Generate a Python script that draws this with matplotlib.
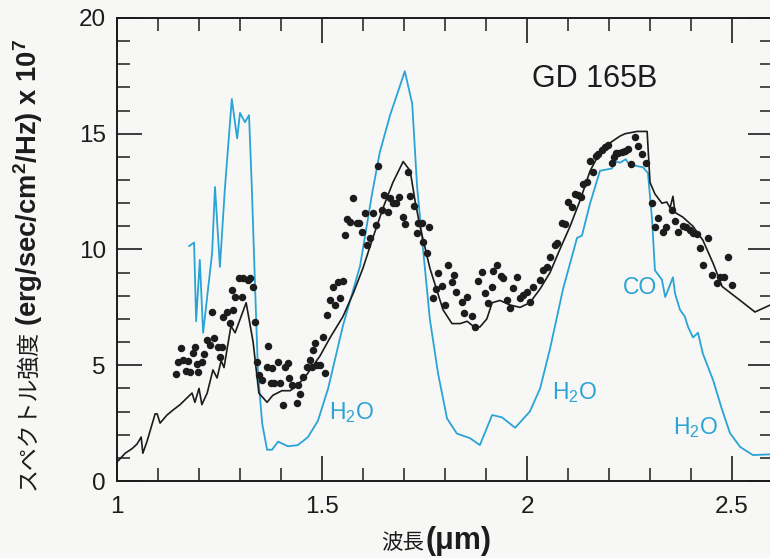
import matplotlib
matplotlib.use("Agg")
import matplotlib.pyplot as plt
from matplotlib.ticker import MultipleLocator

plt.rcParams['font.family'] = ['Liberation Sans', 'DejaVu Sans']
plt.rcParams['mathtext.fontset'] = 'custom'
plt.rcParams['mathtext.rm'] = 'Liberation Sans'
plt.rcParams['mathtext.bf'] = 'Liberation Sans:bold'
plt.rcParams['mathtext.it'] = 'Liberation Sans:italic'

# ---- data ----
model_wl = [1.000, 1.020, 1.037, 1.049, 1.059, 1.063, 1.073, 1.093, 1.098, 1.105,
            1.122, 1.137, 1.154, 1.183, 1.190, 1.200, 1.207, 1.220, 1.234, 1.244,
            1.254, 1.261, 1.278, 1.288, 1.315, 1.332, 1.346, 1.366, 1.380, 1.402,
            1.422, 1.439, 1.463, 1.495, 1.520, 1.551, 1.576, 1.600, 1.624, 1.649,
            1.673, 1.698, 1.715, 1.727, 1.739, 1.751, 1.763, 1.780, 1.795, 1.817,
            1.837, 1.854, 1.868, 1.885, 1.902, 1.915, 1.934, 1.959, 1.983, 2.007,
            2.032, 2.056, 2.080, 2.105, 2.129, 2.154, 2.178, 2.202, 2.227, 2.239,
            2.268, 2.293, 2.300, 2.312, 2.329, 2.341, 2.349, 2.356, 2.361, 2.380,
            2.405, 2.429, 2.454, 2.476, 2.520, 2.556, 2.593]
model_flux = [0.82, 1.2, 1.4, 1.6, 1.9, 1.2, 1.7, 2.9, 2.9, 2.5,
              2.85, 3.07, 3.3, 3.8, 3.4, 4.0, 3.3, 3.8, 4.8, 4.45,
              5.2, 4.9, 6.7, 6.4, 7.7, 6.0, 3.8, 3.4, 3.7, 3.9,
              3.9, 4.1, 4.6, 5.4, 6.2, 7.1, 8.1, 9.2, 10.5, 11.8,
              12.9, 13.8, 13.4, 12.1, 11.0, 10.1, 9.2, 8.25, 7.4, 6.8,
              6.8, 6.9, 6.7, 6.65, 7.0, 7.7, 7.8, 7.6, 7.5, 7.7,
              8.3, 9.0, 10.0, 11.0, 12.1, 13.4, 14.2, 14.6, 14.9, 15.0,
              15.1, 15.1, 12.9, 12.4, 12.0, 12.05, 11.8, 12.3, 11.6, 11.4,
              11.0, 10.4, 9.4, 8.4, 7.8, 7.3, 7.6]

dusty_wl = [1.176, 1.188, 1.193, 1.202, 1.210, 1.232, 1.239, 1.251, 1.263, 1.280,
            1.293, 1.300, 1.312, 1.322, 1.329, 1.337, 1.344, 1.354, 1.366, 1.378,
            1.393, 1.417, 1.441, 1.466, 1.490, 1.515, 1.551, 1.593, 1.622, 1.641,
            1.666, 1.685, 1.702, 1.720, 1.732, 1.746, 1.763, 1.783, 1.805, 1.829,
            1.861, 1.885, 1.915, 1.939, 1.971, 2.007, 2.032, 2.056, 2.088, 2.122,
            2.134, 2.154, 2.178, 2.207, 2.215, 2.227, 2.241, 2.246, 2.256, 2.283,
            2.295, 2.305, 2.312, 2.329, 2.337, 2.344, 2.356, 2.361, 2.373, 2.385,
            2.393, 2.405, 2.417, 2.429, 2.454, 2.476, 2.495, 2.520, 2.551, 2.593]
dusty_flux = [10.15, 10.3, 6.9, 9.55, 6.4, 9.85, 12.7, 9.25, 12.6, 16.5,
              14.8, 15.9, 15.5, 15.8, 12.6, 8.25, 4.65, 2.5, 1.35, 1.35,
              1.7, 1.5, 1.55, 1.9, 2.6, 4.0, 6.7, 9.3, 12.4, 14.2,
              15.8, 16.8, 17.7, 16.3, 12.7, 10.1, 7.0, 4.65, 2.7, 2.05,
              1.85, 1.55, 2.85, 2.75, 2.3, 3.0, 4.0, 5.7, 8.3, 10.5,
              10.6, 12.0, 13.4, 13.5, 13.8, 13.75, 13.9, 13.75, 13.65, 13.55,
              13.3, 11.3, 9.1, 8.7, 7.95, 8.25, 8.8, 8.1, 7.4, 7.1,
              6.65, 6.2, 6.4, 5.5, 4.35, 3.07, 2.07, 1.47, 1.12, 1.15]

obs_wl = [1.144, 1.148, 1.155, 1.162, 1.168, 1.172, 1.178, 1.186, 1.190, 1.194,
          1.198, 1.207, 1.213, 1.219, 1.227, 1.231, 1.237, 1.247, 1.251, 1.257,
          1.259, 1.268, 1.276, 1.284, 1.281, 1.288, 1.298, 1.304, 1.308, 1.319,
          1.324, 1.331, 1.337, 1.341, 1.346, 1.353, 1.365, 1.369, 1.379, 1.376,
          1.384, 1.393, 1.398, 1.404, 1.410, 1.416, 1.420, 1.428, 1.438, 1.441,
          1.446, 1.454, 1.463, 1.471, 1.476,
          1.479, 1.483, 1.487, 1.495, 1.502, 1.507, 1.513, 1.520, 1.526, 1.532,
          1.540, 1.544, 1.550, 1.556, 1.562, 1.568, 1.576, 1.585, 1.591, 1.597,
          1.605, 1.609, 1.617, 1.625, 1.632, 1.637, 1.646, 1.651, 1.662, 1.666,
          1.674, 1.680, 1.689, 1.697, 1.702, 1.709, 1.715, 1.725, 1.732, 1.735,
          1.743, 1.747, 1.755, 1.762, 1.770, 1.778, 1.784, 1.792, 1.800, 1.808,
          1.816, 1.822, 1.828, 1.841, 1.846, 1.853, 1.865, 1.872, 1.881, 1.890,
          1.898, 1.906, 1.914, 1.918, 1.926, 1.936, 1.942, 1.952, 1.959, 1.967,
          1.975, 1.983, 1.991, 1.999, 2.007, 2.015,
          2.032, 2.040, 2.048, 2.056, 2.068, 2.074, 2.085, 2.093, 2.101, 2.109,
          2.117, 2.125, 2.131, 2.137, 2.146, 2.154, 2.162, 2.168, 2.174, 2.182,
          2.190, 2.198, 2.207, 2.211, 2.217, 2.223, 2.231, 2.239, 2.247, 2.253,
          2.263, 2.271, 2.280, 2.290, 2.304, 2.312, 2.320, 2.332, 2.339, 2.353,
          2.361, 2.369, 2.380, 2.388, 2.398, 2.406, 2.414, 2.422, 2.430, 2.442,
          2.450, 2.463, 2.471, 2.481, 2.491, 2.499]
obs_flux = [4.62, 5.15, 5.73, 5.23, 4.75, 5.20, 4.72, 5.52, 5.78, 5.05,
            4.72, 5.15, 5.49, 6.09, 5.87, 7.31, 6.16, 5.80, 5.37, 5.80,
            7.10, 7.31, 6.81, 7.39, 8.25, 7.96, 8.75, 7.93, 8.75, 8.68,
            8.75, 8.39, 6.88, 5.15, 4.58, 4.36, 4.91, 5.84, 4.87, 4.22,
            4.22, 5.15, 4.25, 3.28, 4.94, 5.08, 4.44, 4.15, 3.35, 4.15,
            3.76, 4.51, 4.94, 5.23, 4.94,
            5.66, 5.95, 5.01, 5.01, 6.23, 4.65, 7.17, 7.82, 8.39, 7.60,
            8.61, 7.89, 8.65, 10.63, 11.30, 11.20, 12.21, 11.16, 11.16, 10.77,
            11.56, 10.19, 10.48, 11.56, 11.06, 13.61, 11.71, 12.35, 11.63, 12.21,
            12.0, 12.0, 12.25, 11.42, 11.10, 13.36, 12.31, 11.88, 10.70, 11.13,
            11.13, 10.34, 9.84, 10.99, 7.89, 8.28, 9.0, 8.42, 7.60, 9.33,
            8.61, 8.90, 8.15, 7.75, 7.27, 7.94, 7.13, 6.67, 8.65, 9.04,
            8.14, 7.67, 8.39, 9.08, 9.33, 8.86, 8.75, 7.82, 7.46, 8.32,
            8.83, 7.89, 8.03, 8.18, 7.75, 8.39,
            8.68, 9.11, 9.26, 9.69, 10.19, 10.29, 11.13, 11.10, 12.07, 11.82,
            12.40, 12.35, 12.28, 12.83, 12.93, 13.84, 13.36, 14.04, 14.13, 14.30,
            14.41, 14.51, 13.75, 14.01, 14.16, 14.18, 14.22, 14.27, 14.33, 13.69,
            14.87, 14.47, 14.13, 13.72, 12.02, 10.99, 11.35, 10.77, 10.96, 11.71,
            11.24, 10.77, 11.02, 10.99, 10.84, 10.73, 10.67, 10.05, 9.33, 10.48,
            8.90, 8.54, 8.83, 8.80, 9.66, 8.47]

x_ticks = [1, 1.5, 2, 2.5]
x_ticklabels = ['1', '1.5', '2', '2.5']
y_ticks = [0, 5, 10, 15, 20]
y_ticklabels = ['0', '5', '10', '15', '20']

annot_text = ['H$_\\mathregular{2}$O', 'H$_\\mathregular{2}$O', 'H$_\\mathregular{2}$O', 'CO']
annot_x = [1.571, 2.117, 2.410, 2.276]
annot_y = [2.94, 3.80, 2.33, 8.38]

BLUE = '#2aa3d6'
INK = '#1c1c1c'
BG = '#f7f7f5'

W, H = 770, 558
fig = plt.figure(figsize=(W / 100, H / 100), dpi=100, facecolor=BG)
ax = fig.add_axes([117 / W, 1 - 481 / H, (773 - 117) / W, 463 / H], facecolor=BG)

ax.plot(dusty_wl, dusty_flux, color=BLUE, lw=1.3, zorder=2)
ax.plot(model_wl, model_flux, color=INK, lw=1.2, zorder=3)
ax.plot(obs_wl, obs_flux, 'o', color=INK, ms=5.4, mew=0, zorder=4)

ax.set_xlim(1, 2.6)
ax.set_ylim(0, 20)
ax.set_xticks(x_ticks)
ax.set_xticklabels(x_ticklabels)
ax.set_yticks(y_ticks)
ax.set_yticklabels(y_ticklabels)
ax.xaxis.set_minor_locator(MultipleLocator(0.1))
ax.yaxis.set_minor_locator(MultipleLocator(1))
ax.tick_params(which='both', direction='in', top=True, right=True, colors=INK,
               labelsize=17.5, labelcolor=INK)
ax.tick_params(which='major', length=18, width=1.2)
ax.tick_params(axis='x', which='major', pad=11)
ax.tick_params(axis='y', which='major', pad=8)
ax.tick_params(which='minor', length=9.5, width=1.1)
for s in ax.spines.values():
    s.set_linewidth(1.4)
    s.set_color(INK)

ax.text(2.166, 17.37, 'GD 165B', fontsize=22, color=INK, ha='center', va='center')
for t, xx, yy in zip(annot_text, annot_x, annot_y):
    ax.text(xx, yy, t, fontsize=16.5, color=BLUE, ha='center', va='center')

# y label: Japanese part + bold part
t1 = fig.text(28 / W, 1 - 490 / H, 'スペクトル強度', rotation=90, rotation_mode='anchor',
              ha='left', va='center', fontsize=16.5, color=INK,
              family=['Noto Sans CJK JP', 'DejaVu Sans'])
fig.canvas.draw()
bb = t1.get_window_extent()
t2 = fig.text(28 / W, (bb.y1 + 4) / H,
              '(erg/sec/cm$^\\mathbf{2}$/Hz) x 10$^\\mathbf{7}$',
              rotation=90, rotation_mode='anchor', ha='left', va='center',
              fontsize=19.7, fontweight='bold', color=INK)

# x label
fig.text(424 / W, 1 - 549 / H, '波長', ha='right', va='baseline', fontsize=15.5, color=INK,
         family=['Noto Sans CJK JP', 'DejaVu Sans'])
fig.text(426 / W, 1 - 549 / H, '(μm)', ha='left', va='baseline', fontsize=22,
         fontweight='bold', color=INK)

fig.savefig('out.png', dpi=100, facecolor=BG)
